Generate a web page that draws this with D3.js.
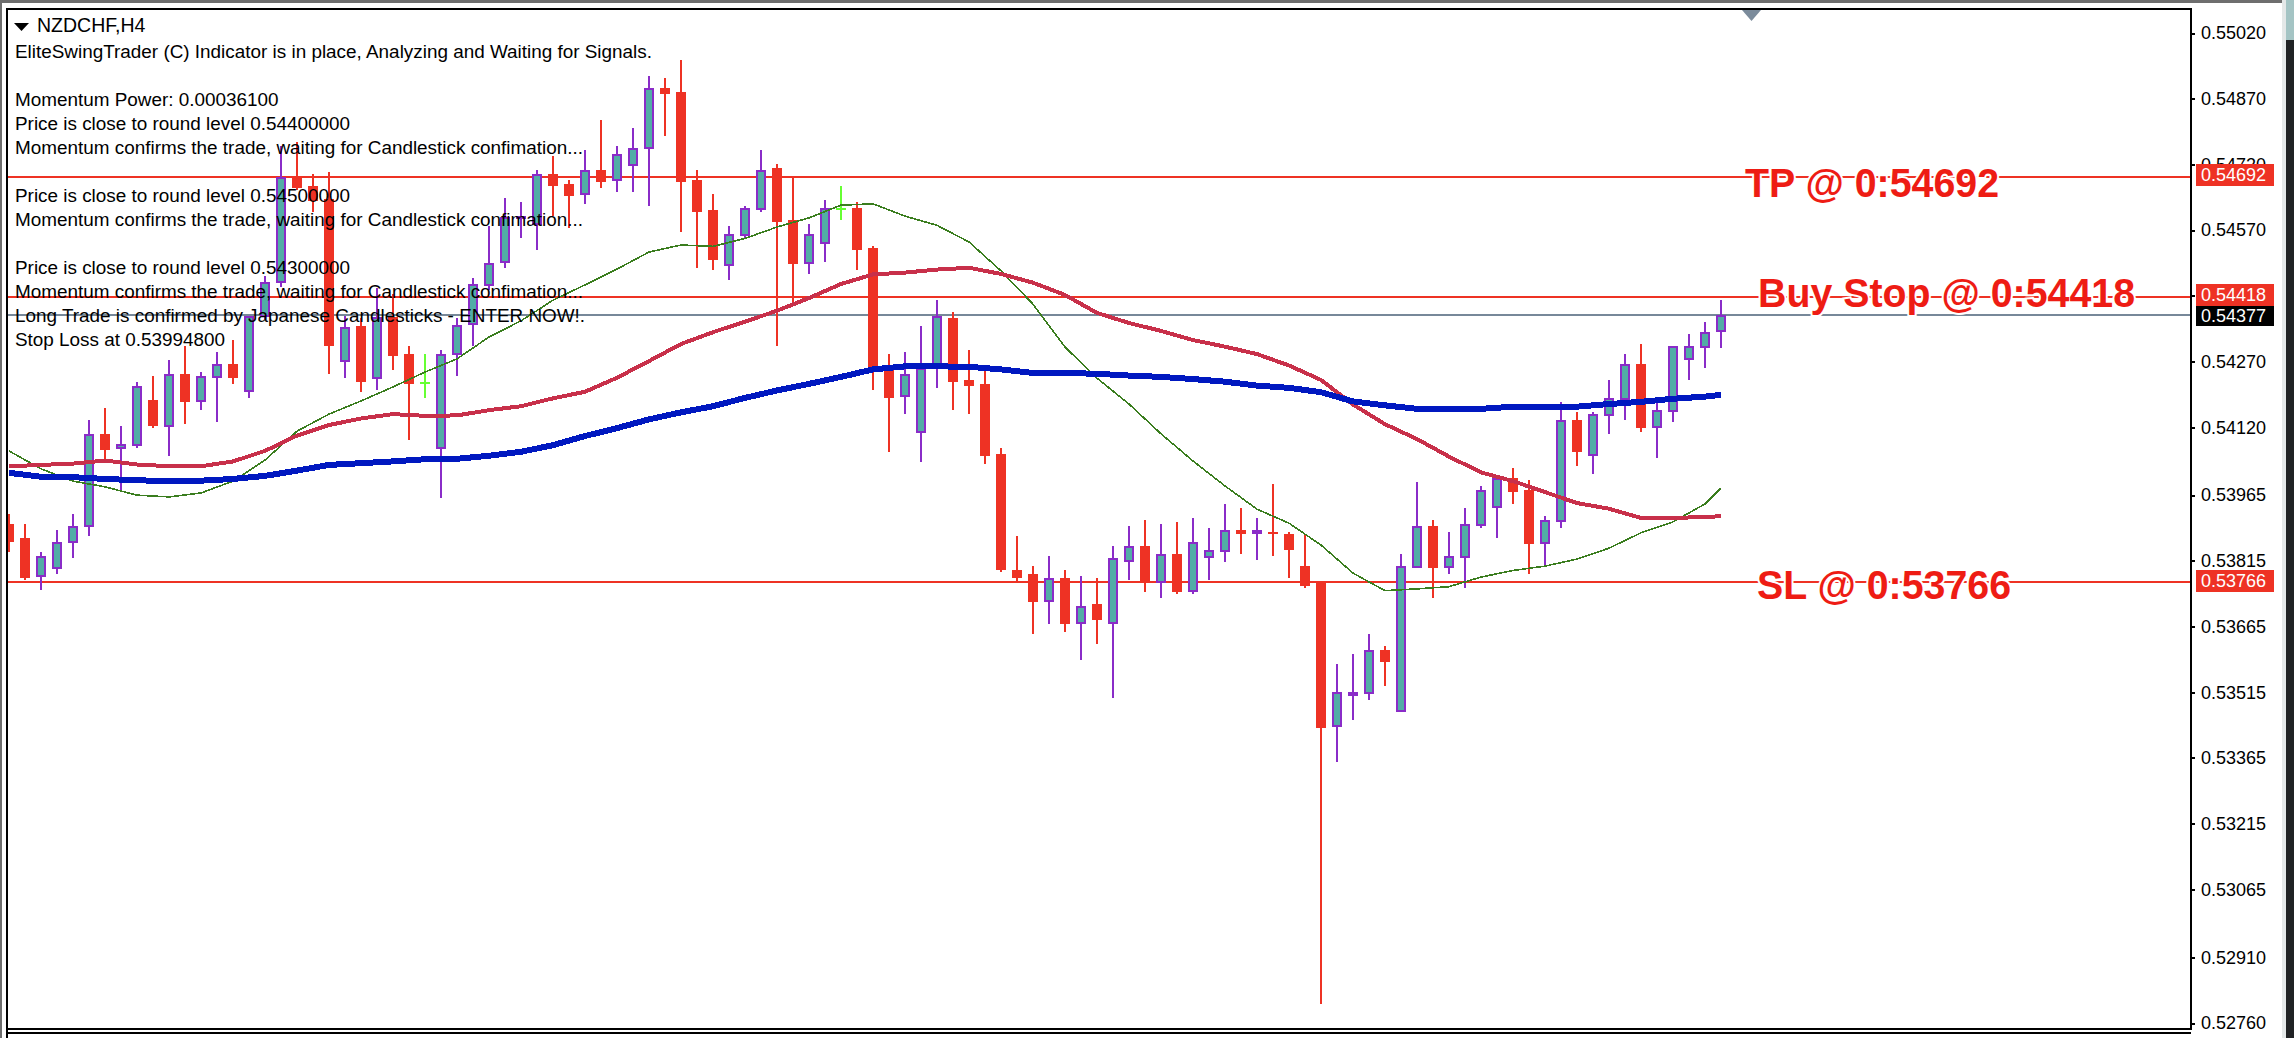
<!DOCTYPE html>
<html>
<head>
<meta charset="utf-8">
<title>NZDCHF,H4</title>
<script src="https://cdn.jsdelivr.net/npm/d3@7"></script>
<style>
html, body { margin: 0; padding: 0; background: #fff; overflow: hidden; }
svg { display: block; }
text { font-family: "Liberation Sans", Arial, sans-serif; }
</style>
</head>
<body>
<div id="chart"></div>
<script>
// candles, one row of ten bars per line
var opens = [
  .53899,.53867,.53778,.53796,.53856,.53892,.54105,.54070,.54077,.54182,
  .54121,.54242,.54178,.54232,.54264,.54200,.54372,.54449,.54691,.54671,
  .54641,.54269,.54351,.54230,.54372,.54287,.54221,.54070,.54285,.54353,
  .54442,.54495,.54598,.54582,.54698,.54675,.54650,.54707,.54682,.54716,
  .54755,.54894,.54885,.54684,.54616,.54488,.54557,.54616,.54712,.54593,
  .54493,.54538,.54618,.54620,.54529,.54255,.54189,.54107,.54258,.54369,
  .54228,.54219,.54059,.53794,.53785,.53721,.53776,.53671,.53716,.53671,
  .53812,.53849,.53764,.53831,.53744,.53821,.53835,.53885,.53876,.53881,
  .53876,.53803,.53764,.53436,.53506,.53511,.53611,.53470,.53799,.53895,
  .53799,.53821,.53895,.53936,.54004,.53977,.53853,.53904,.54137,.54054,
  .54146,.54182,.54264,.54118,.54155,.54274,.54301,.54337
];
var closes = [
  .53858,.53776,.53826,.53858,.53895,.54105,.54068,.54082,.54214,.54123,
  .54242,.54178,.54237,.54264,.54232,.54374,.54452,.54691,.54666,.54636,
  .54305,.54349,.54223,.54372,.54283,.54219,.54221,.54287,.54353,.54447,
  .54495,.54600,.54602,.54698,.54671,.54648,.54707,.54680,.54744,.54757,
  .54894,.54881,.54680,.54611,.54502,.54561,.54620,.54707,.54589,.54493,
  .54561,.54620,.54618,.54525,.54255,.54187,.54242,.54255,.54374,.54223,
  .54214,.54054,.53794,.53776,.53721,.53776,.53671,.53712,.53680,.53821,
  .53849,.53764,.53831,.53744,.53858,.53840,.53885,.53876,.53885,.53876,
  .53840,.53757,.53433,.53516,.53516,.53611,.53584,.53803,.53895,.53799,
  .53826,.53899,.53977,.54004,.53972,.53853,.53908,.54137,.54063,.54150,
  .54187,.54264,.54118,.54159,.54305,.54305,.54337,.54377
];
var highs = [
  .53922,.53899,.53835,.53885,.53922,.54137,.54164,.54123,.54223,.54237,
  .54274,.54305,.54246,.54292,.54319,.54374,.54465,.54762,.54771,.54698,
  .54703,.54374,.54369,.54438,.54424,.54305,.54287,.54296,.54369,.54461,
  .54579,.54643,.54634,.54707,.54739,.54684,.54753,.54821,.54762,.54803,
  .54922,.54917,.54958,.54707,.54652,.54579,.54625,.54753,.54721,.54691,
  .54584,.54639,.54671,.54634,.54534,.54287,.54292,.54351,.54410,.54383,
  .54296,.54251,.54073,.53872,.53803,.53826,.53794,.53780,.53776,.53849,
  .53895,.53908,.53899,.53904,.53913,.53890,.53945,.53936,.53913,.53990,
  .53881,.53876,.53764,.53579,.53602,.53648,.53621,.53831,.53995,.53908,
  .53881,.53936,.53986,.54011,.54027,.53999,.53917,.54178,.54155,.54155,
  .54228,.54287,.54310,.54175,.54305,.54333,.54360,.54410
];
var lows = [
  .53835,.53771,.53748,.53785,.53821,.53872,.54045,.53977,.54073,.54118,
  .54054,.54127,.54159,.54132,.54219,.54187,.54367,.54440,.54662,.54611,
  .54242,.54232,.54200,.54205,.54251,.54091,.54187,.53958,.54237,.54305,
  .54433,.54484,.54552,.54525,.54602,.54575,.54630,.54666,.54657,.54657,
  .54625,.54785,.54566,.54484,.54479,.54456,.54552,.54611,.54305,.54404,
  .54470,.54497,.54593,.54479,.54205,.54063,.54150,.54041,.54210,.54159,
  .54150,.54036,.53790,.53764,.53648,.53671,.53653,.53589,.53625,.53502,
  .53771,.53744,.53730,.53739,.53739,.53771,.53812,.53831,.53817,.53826,
  .53776,.53753,.52803,.53356,.53452,.53497,.53529,.53470,.53799,.53730,
  .53785,.53753,.53890,.53867,.53945,.53785,.53803,.53890,.54031,.54013,
  .54105,.54137,.54109,.54050,.54132,.54228,.54255,.54301
];

var maBars = [0,2,4,6,8,10,12,14,16,18,20,22,24,26,28,30,32,34,36,38,40,42,44,46,48,50,52,
  54,56,58,60,62,64,66,68,70,72,74,76,78,80,82,84,86,88,90,92,94,96,98,100,102,104,106,107];
var maSlow = [
  .54016,.54007,.54006,.54002,.53999,.53997,.53998,.54002,.54009,.54021,.54034,.54038,.54042,.54047,
  .54048,.54055,.54064,.54079,.54100,.54118,.54138,.54154,.54168,.54187,.54204,.54219,.54235,.54252,
  .54259,.54259,.54258,.54252,.54244,.54244,.54242,.54238,.54235,.54230,.54224,.54215,.54210,.54200,
  .54179,.54170,.54162,.54162,.54162,.54167,.54167,.54167,.54173,.54178,.54185,.54190,.54194
];
var maMid = [
  .54031,.54034,.54037,.54044,.54035,.54031,.54031,.54042,.54066,.54101,.54125,.54140,.54150,.54146,
  .54147,.54159,.54168,.54186,.54201,.54233,.54271,.54310,.54337,.54361,.54386,.54415,.54447,.54469,
  .54473,.54480,.54484,.54470,.54450,.54422,.54381,.54358,.54340,.54319,.54304,.54287,.54261,.54228,
  .54172,.54127,.54093,.54053,.54017,.53997,.53972,.53947,.53934,.53913,.53913,.53915,.53917
];
var maFast = [
  .54066,.54025,.53997,.53984,.53965,.53961,.53970,.53997,.54045,.54111,.54150,.54180,.54212,.54246,
  .54276,.54326,.54363,.54410,.54445,.54481,.54520,.54536,.54533,.54551,.54577,.54598,.54627,.54630,
  .54602,.54581,.54543,.54477,.54401,.54303,.54232,.54173,.54105,.54043,.53986,.53933,.53901,.53851,
  .53787,.53747,.53751,.53756,.53778,.53793,.53803,.53819,.53844,.53879,.53904,.53945,.53981
];

var priceTicks = [.55020,.54870,.54720,.54570,.54420,.54270,.54120,.53965,.53815,.53665,.53515,.53365,.53215,.53065,.52910,.52760];
var levelPrices = [.54692,.54418,.53766];
var levelNames = ["TP @ 0:54692","Buy Stop @ 0:54418","SL @ 0:53766"];
var bidPrice = .54377;

var infoLines = [
  "EliteSwingTrader (C) Indicator is in place, Analyzing and Waiting for Signals.",
  "",
  "Momentum Power: 0.00036100",
  "Price is close to round level 0.54400000",
  "Momentum confirms the trade, waiting for Candlestick confimation...",
  "",
  "Price is close to round level 0.54500000",
  "Momentum confirms the trade, waiting for Candlestick confimation...",
  "",
  "Price is close to round level 0.54300000",
  "Momentum confirms the trade, waiting for Candlestick confimation...",
  "Long Trade is confirmed by Japanese Candlesticks - ENTER NOW!.",
  "Stop Loss at 0.53994800"
];

var red = "#ee3224", violet = "#8a2cc8", teal = "#52ada6", lime = "#66ff33", slate = "#778899";

var width = 2294, height = 1038,
    plot = { left: 7, top: 9, right: 2191, bottom: 1029 };

var svg = d3.select("#chart").append("svg")
    .attr("width", width)
    .attr("height", height);

// window frame
svg.append("rect").attr("width", 2283).attr("height", 3).attr("fill", "#6e6e6e");
svg.append("rect").attr("width", 2).attr("height", height).attr("fill", "#6e6e6e");
svg.append("rect").attr("x", 2282).attr("width", 4).attr("height", height).attr("fill", "#e4e8e8");
svg.append("rect").attr("x", 2286).attr("width", 8).attr("height", height).attr("fill", "#202224");
svg.append("rect").attr("x", 2286).attr("width", 8).attr("height", 40).attr("fill", "#a4c4c4");

var x = d3.scaleLinear().domain([0, 107]).range([9, 1721]);
var y = d3.scaleLinear().domain([.5276, .5502]).range([1023, 33]);

var chart = svg.append("g");
var clip = svg.append("clipPath").attr("id", "plotClip").append("rect")
    .attr("x", plot.left).attr("y", plot.top)
    .attr("width", plot.right - plot.left).attr("height", plot.bottom - plot.top);
chart.attr("clip-path", "url(#plotClip)");

var bars = d3.range(opens.length);
function isUp(i) { return closes[i] > opens[i]; }
function isDoji(i) { return closes[i] === opens[i]; }
function barColor(i) { return isDoji(i) ? lime : (isUp(i) ? violet : red); }

// horizontal levels go under the candles
chart.selectAll(".level").data(levelPrices).enter().append("line")
    .attr("x1", plot.left).attr("x2", plot.right)
    .attr("y1", function(d) { return Math.round(y(d)); })
    .attr("y2", function(d) { return Math.round(y(d)); })
    .attr("stroke", red).attr("stroke-width", 2)
    .attr("shape-rendering", "crispEdges");
chart.append("line")
    .attr("x1", plot.left).attr("x2", plot.right)
    .attr("y1", Math.round(y(bidPrice))).attr("y2", Math.round(y(bidPrice)))
    .attr("stroke", slate).attr("stroke-width", 2)
    .attr("shape-rendering", "crispEdges");

// wicks
chart.selectAll(".wick").data(bars).enter().append("line")
    .attr("x1", function(i) { return x(i); })
    .attr("x2", function(i) { return x(i); })
    .attr("y1", function(i) { return y(highs[i]); })
    .attr("y2", function(i) { return y(lows[i]); })
    .attr("stroke", barColor).attr("stroke-width", 2)
    .attr("shape-rendering", "crispEdges");

// bodies, up candles carry a violet border
chart.selectAll(".body").data(bars).enter().append("rect")
    .attr("x", function(i) { return x(i) - (isUp(i) ? 4 : 5); })
    .attr("y", function(i) {
        if (isDoji(i)) return y(opens[i]) - 1;
        return y(Math.max(opens[i], closes[i])) + (isUp(i) ? 1 : 0);
    })
    .attr("width", function(i) { return isUp(i) ? 8 : 10; })
    .attr("height", function(i) {
        if (isDoji(i)) return 2;
        var h = Math.abs(y(opens[i]) - y(closes[i]));
        return isUp(i) ? Math.max(h - 2, 1) : Math.max(h, 2);
    })
    .attr("fill", function(i) { return isDoji(i) ? lime : (isUp(i) ? teal : red); })
    .attr("stroke", function(i) { return isUp(i) ? violet : "none"; })
    .attr("stroke-width", 2)
    .attr("shape-rendering", "crispEdges");

// moving averages
var maLine = d3.line()
    .x(function(d, i) { return x(maBars[i]); })
    .y(function(d) { return y(d); });
[[maFast, "#3a7d1e", 1.6], [maMid, "#c8304a", 4], [maSlow, "#0018c0", 6]].forEach(function(ma) {
    chart.append("path")
        .attr("d", maLine(ma[0]))
        .attr("fill", "none")
        .attr("stroke", ma[1])
        .attr("stroke-width", ma[2])
        .attr("shape-rendering", "crispEdges");
});

// frame of the plot
svg.append("rect")
    .attr("x", plot.left).attr("y", plot.top)
    .attr("width", plot.right - plot.left).attr("height", plot.bottom - plot.top)
    .attr("fill", "none").attr("stroke", "#000").attr("stroke-width", 2)
    .attr("shape-rendering", "crispEdges");
svg.append("line")
    .attr("x1", plot.left).attr("x2", plot.right).attr("y1", 1033).attr("y2", 1033)
    .attr("stroke", "#000").attr("stroke-width", 2).attr("shape-rendering", "crispEdges");
svg.append("line")
    .attr("x1", plot.left).attr("x2", plot.left).attr("y1", 1029).attr("y2", height)
    .attr("stroke", "#000").attr("stroke-width", 2).attr("shape-rendering", "crispEdges");

// price axis
var axis = svg.append("g")
    .attr("transform", "translate(" + plot.right + ",0)")
    .call(d3.axisRight(y).tickValues(priceTicks).tickFormat(d3.format(".5f")).tickSize(4).tickPadding(6));
axis.select(".domain").remove();
axis.selectAll("line").attr("stroke-width", 2).attr("shape-rendering", "crispEdges");
axis.selectAll("text").style("font-size", "18px").style("font-family", "Liberation Sans").attr("fill", "#000");

// grey shift marker at the top, menu arrow next to the title
svg.append("path").attr("d", "M1742,10H1761L1751.5,21Z").attr("fill", "#7b8b9b");
svg.append("path").attr("d", "M14,23H29L21.5,31Z").attr("fill", "#000");

// info text sits on top of the candles
svg.append("text").attr("x", 37).attr("y", 32).style("font-size", "19.5px").text("NZDCHF,H4");
svg.selectAll(".info").data(infoLines).enter().append("text")
    .attr("x", 15)
    .attr("y", function(d, i) { return 58 + 24 * i; })
    .style("font-size", "18.9px")
    .attr("fill", "#000")
    .text(function(d) { return d; });

// large trade labels, a white halo cuts the level line behind them
var labelX = [1745, 1758, 1757], labelY = [197, 307, 599], labelW = [254, 377, 254];
svg.selectAll(".tradeLabel").data(levelNames).enter().append("text")
    .attr("x", function(d, i) { return labelX[i]; })
    .attr("y", function(d, i) { return labelY[i]; })
    .attr("textLength", function(d, i) { return labelW[i]; })
    .attr("lengthAdjust", "spacingAndGlyphs")
    .style("font-size", "40px")
    .style("font-weight", "bold")
    .style("paint-order", "stroke")
    .attr("stroke", "#fff").attr("stroke-width", 4)
    .attr("fill", "#ee1c14")
    .text(function(d) { return d; });

// price tags on the axis
var tagPrices = levelPrices.concat([bidPrice]);
var tagColors = [red, red, red, "#000"];
var tagTop = [164, 284, 570, 306], tagH = [22, 22, 22, 20];
var tags = svg.selectAll(".tag").data(tagPrices).enter().append("g");
tags.append("rect")
    .attr("x", 2196).attr("width", 78)
    .attr("y", function(d, i) { return tagTop[i]; })
    .attr("height", function(d, i) { return tagH[i]; })
    .attr("fill", function(d, i) { return tagColors[i]; });
tags.append("text")
    .attr("x", 2201)
    .attr("y", function(d, i) { return tagTop[i] + tagH[i] / 2 + 6; })
    .style("font-size", "18px")
    .attr("fill", "#fff")
    .text(function(d) { return d3.format(".5f")(d); });
</script>
</body>
</html>
